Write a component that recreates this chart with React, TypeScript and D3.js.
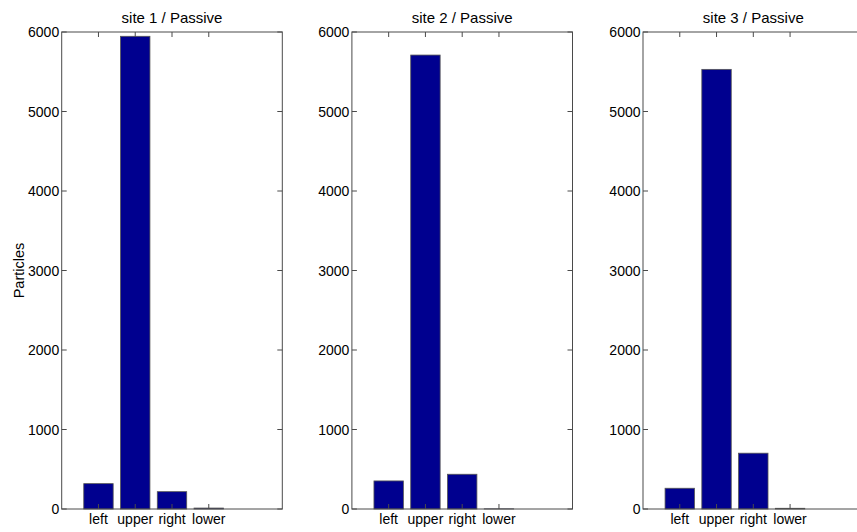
import React from "react";
import * as d3 from "d3";

const categories = ["left", "upper", "right", "lower"];
const titles = ["site 1 / Passive", "site 2 / Passive", "site 3 / Passive"];
const site1 = [319, 5946, 218, 12];
const site2 = [353, 5710, 437, 2];
const site3 = [261, 5530, 702, 9];
const seriesList = [site1, site2, site3];
const yTicks = [0, 1000, 2000, 3000, 4000, 5000, 6000];
const xTicks = [1, 2, 3, 4];

const W = 857;
const H = 532;
const panelLefts = [61.7, 351.9, 643];
const panelW = 220.6;
const top = 32;
const bottom = 509;
const font = "Liberation Sans, Arial, sans-serif";
const axisColor = "#4a4a4a";

export default function App() {
  const y = d3.scaleLinear().domain([0, 6000]).range([bottom, top]);
  const tickLen = 5;
  return (
    <svg width={W} height={H} style={{ position: "absolute", left: 0, top: 0, background: "#fff" }}>
      {seriesList.map((vals, pi) => {
        const x0 = panelLefts[pi];
        const x = d3.scaleLinear().domain([0, 6]).range([x0, x0 + panelW]);
        const bw = x(0.8) - x(0);
        return (
          <g key={pi}>
            {vals.map((v, i) => (
              <rect
                key={i}
                x={x(i + 1) - bw / 2}
                y={y(v)}
                width={bw}
                height={y(0) - y(v)}
                fill="#00008f"
                stroke="#555"
                strokeWidth={0.8}
              />
            ))}
            <rect x={x(0)} y={top} width={panelW} height={bottom - top} fill="none" stroke={axisColor} strokeWidth={1} />
            {yTicks.map((t) => (
              <g key={t}>
                <line x1={x(0)} x2={x(0) + tickLen} y1={y(t)} y2={y(t)} stroke={axisColor} />
                <line x1={x(6)} x2={x(6) - tickLen} y1={y(t)} y2={y(t)} stroke={axisColor} />
                <text x={x(0) - 2.5} y={y(t)} dy="0.36em" textAnchor="end" fontFamily={font} fontSize={14} fill="#000">
                  {t}
                </text>
              </g>
            ))}
            {xTicks.map((t, i) => (
              <g key={t}>
                <line x1={x(t)} x2={x(t)} y1={bottom} y2={bottom - tickLen} stroke={axisColor} />
                <line x1={x(t)} x2={x(t)} y1={top} y2={top + tickLen} stroke={axisColor} />
                <text x={x(t)} y={524} textAnchor="middle" fontFamily={font} fontSize={14} fill="#000">
                  {categories[i]}
                </text>
              </g>
            ))}
            <text x={x(3)} y={22.5} textAnchor="middle" fontFamily={font} fontSize={15} fill="#000">
              {titles[pi]}
            </text>
          </g>
        );
      })}
      <text
        transform={`translate(24, ${(top + bottom) / 2}) rotate(-90)`}
        textAnchor="middle"
        fontFamily={font}
        fontSize={14.5}
        fill="#000"
      >
        Particles
      </text>
    </svg>
  );
}
